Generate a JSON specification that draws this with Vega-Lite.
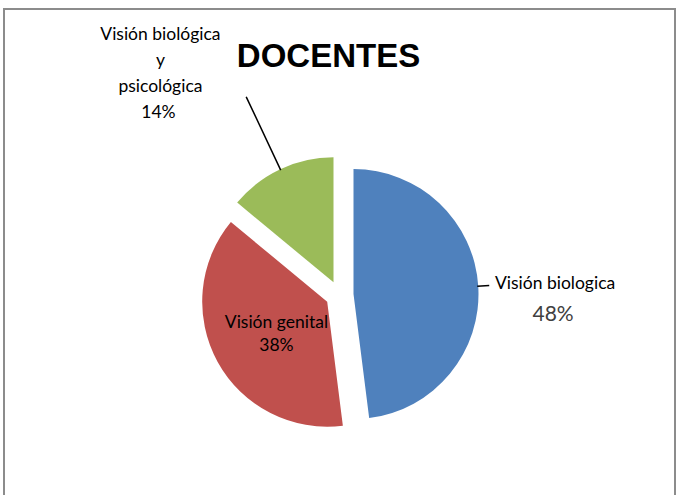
{
  "$schema": "https://vega.github.io/schema/vega-lite/v6.json",
  "autosize": "none",
  "width": 671,
  "height": 489,
  "padding": {"left": 4, "top": 9, "right": 3, "bottom": -3},
  "background": "white",
  "view": {"stroke": "#8c8c8c", "strokeWidth": 2},
  "config": {
    "view": {"stroke": "#8c8c8c", "strokeWidth": 2},
    "text": {"font": "Lato"}
  },
  "title": {
    "text": "DOCENTES",
    "font": "Liberation Sans",
    "fontSize": 33,
    "fontWeight": "bold",
    "color": "#000000",
    "anchor": "middle",
    "frame": "group",
    "orient": "top",
    "baseline": "alphabetic",
    "offset": -58,
    "dx": -11,
    "dy": 33
  },
  "data": {
    "values": [
      {"categoria": "Visión biologica", "rotulo": "Visión biologica", "proporcion": 0.48, "orden": 1},
      {"categoria": "Visión genital", "rotulo": "Visión genital", "proporcion": 0.38, "orden": 2},
      {"categoria": "Visión biológica y psicológica", "rotulo": "Visión biológica\ny\npsicológica", "proporcion": 0.14, "orden": 3}
    ]
  },
  "encoding": {
    "theta": {"field": "proporcion", "type": "quantitative", "stack": true},
    "order": {"field": "orden", "type": "quantitative"},
    "detail": {"field": "categoria", "type": "nominal"}
  },
  "layer": [
    {
      "mark": {"type": "arc", "radius": 125, "xOffset": 14, "yOffset": 40.6},
      "encoding": {
        "color": {"field": "categoria", "type": "nominal", "scale": {"domain": ["Visión biologica", "Visión genital", "Visión biológica y psicológica"], "range": ["#4F81BD", "#C0504D", "#9BBB59"]}, "legend": null},
        "opacity": {"condition": {"test": "datum.orden === 1", "value": 1}, "value": 0}
      }
    },
    {
      "mark": {"type": "arc", "radius": 125, "xOffset": -12.3, "yOffset": 48.2},
      "encoding": {
        "color": {"field": "categoria", "type": "nominal", "scale": {"domain": ["Visión biologica", "Visión genital", "Visión biológica y psicológica"], "range": ["#4F81BD", "#C0504D", "#9BBB59"]}, "legend": null},
        "opacity": {"condition": {"test": "datum.orden === 2", "value": 1}, "value": 0}
      }
    },
    {
      "mark": {"type": "arc", "radius": 125, "xOffset": -6, "yOffset": 28.8},
      "encoding": {
        "color": {"field": "categoria", "type": "nominal", "scale": {"domain": ["Visión biologica", "Visión genital", "Visión biológica y psicológica"], "range": ["#4F81BD", "#C0504D", "#9BBB59"]}, "legend": null},
        "opacity": {"condition": {"test": "datum.orden === 3", "value": 1}, "value": 0}
      }
    },
    {
      "mark": {"type": "arc", "radius": 136, "radius2": 124, "padAngle": 3, "xOffset": 14, "yOffset": 40.6, "fill": null, "stroke": "#000000", "strokeWidth": 1.5},
      "encoding": {
        "opacity": {"condition": {"test": "datum.orden === 1", "value": 1}, "value": 0}
      }
    },
    {
      "mark": {"type": "arc", "radius": 205, "radius2": 124, "padAngle": 3, "xOffset": -6, "yOffset": 28.8, "fill": null, "stroke": "#000000", "strokeWidth": 1.5},
      "encoding": {
        "opacity": {"condition": {"test": "datum.orden === 3", "value": 1}, "value": 0}
      }
    },
    {
      "mark": {"type": "text", "radius": 214, "yOffset": 41.5, "dx": 2, "dy": 7, "fontSize": 17.5, "align": "center", "baseline": "alphabetic", "color": "#000000"},
      "encoding": {
        "text": {"field": "rotulo", "type": "nominal"},
        "opacity": {"condition": {"test": "datum.orden === 1", "value": 1}, "value": 0}
      }
    },
    {
      "mark": {"type": "text", "radius": 214, "yOffset": 41.5, "dx": 0, "dy": 39, "fontSize": 21, "align": "center", "baseline": "alphabetic", "color": "#404040"},
      "encoding": {
        "text": {"field": "proporcion", "type": "quantitative", "format": ".0%"},
        "opacity": {"condition": {"test": "datum.orden === 1", "value": 1}, "value": 0}
      }
    },
    {
      "mark": {"type": "text", "radius": 72, "yOffset": 41.5, "dx": 0, "dy": -2, "fontSize": 17.5, "align": "center", "baseline": "alphabetic", "color": "#000000"},
      "encoding": {
        "text": {"field": "rotulo", "type": "nominal"},
        "opacity": {"condition": {"test": "datum.orden === 2", "value": 1}, "value": 0}
      }
    },
    {
      "mark": {"type": "text", "radius": 72, "yOffset": 41.5, "dx": 0, "dy": 21, "fontSize": 17.5, "align": "center", "baseline": "alphabetic", "color": "#000000"},
      "encoding": {
        "text": {"field": "proporcion", "type": "quantitative", "format": ".0%"},
        "opacity": {"condition": {"test": "datum.orden === 2", "value": 1}, "value": 0}
      }
    },
    {
      "mark": {"type": "text", "radius": 282, "yOffset": 41.5, "dx": -59, "dy": 0, "fontSize": 17.5, "lineBreak": "\n", "lineHeight": 26, "align": "center", "baseline": "alphabetic", "color": "#000000"},
      "encoding": {
        "text": {"field": "rotulo", "type": "nominal"},
        "opacity": {"condition": {"test": "datum.orden === 3", "value": 1}, "value": 0}
      }
    },
    {
      "mark": {"type": "text", "radius": 282, "yOffset": 41.5, "dx": -61, "dy": 78, "fontSize": 17.5, "align": "center", "baseline": "alphabetic", "color": "#000000"},
      "encoding": {
        "text": {"field": "proporcion", "type": "quantitative", "format": ".0%"},
        "opacity": {"condition": {"test": "datum.orden === 3", "value": 1}, "value": 0}
      }
    }
  ]
}
